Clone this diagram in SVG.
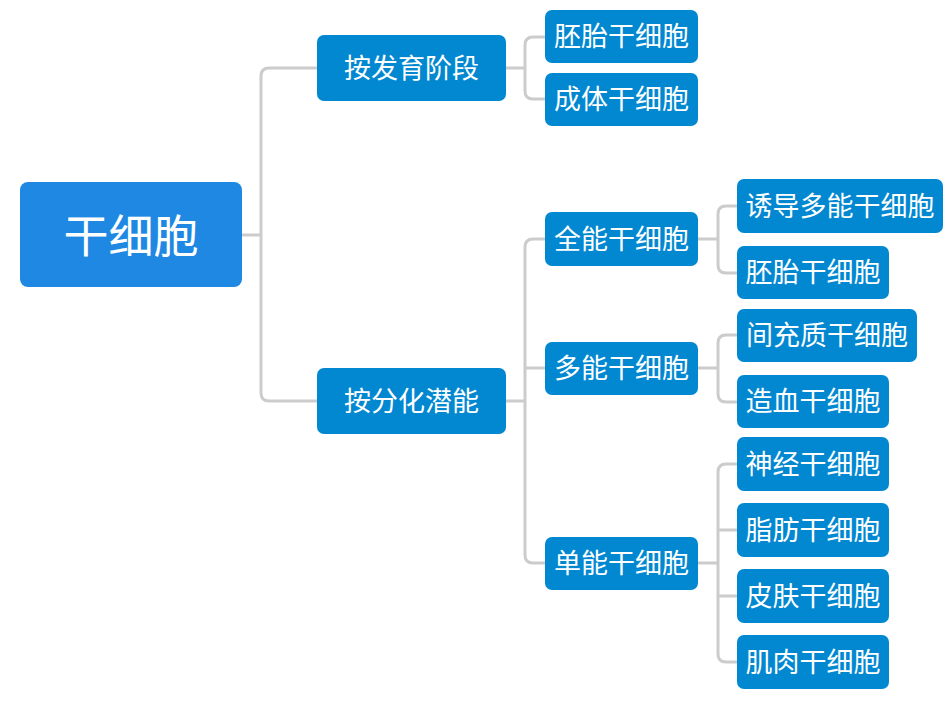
<svg xmlns="http://www.w3.org/2000/svg" width="947" height="701" viewBox="0 0 947 701">
<style>
.n{fill:#0288d1}
.r{fill:#1f88e3}
.t{fill:#fff;font-family:"Noto Sans CJK SC","Noto Sans",sans-serif;font-size:27px;text-anchor:middle;dominant-baseline:central}
.rt{font-size:45px}
.c{fill:none;stroke:#cccccc;stroke-width:3}
</style>
<rect width="947" height="701" fill="#fff"/>
<g id="connectors">
<path class="c" d="M242,235 H261 M261,235 V76 Q261,68 269,68 H317 M261,235 V393 Q261,401 269,401 H317"/>
<path class="c" d="M506,68 H525 M525,68 V45 Q525,37 533,37 H545 M525,68 V91 Q525,99 533,99 H545"/>
<path class="c" d="M506,401 H525 M525,401 V247 Q525,239 533,239 H545 M525,401 V555 Q525,563 533,563 H545 M525,368 H545"/>
<path class="c" d="M698,239 H718 M718,239 V214 Q718,206 726,206 H737 M718,239 V265 Q718,273 726,273 H737"/>
<path class="c" d="M698,368 H718 M718,368 V343 Q718,335 726,335 H737 M718,368 V394 Q718,402 726,402 H737"/>
<path class="c" d="M698,563 H718 M718,563 V472 Q718,464 726,464 H737 M718,563 V654 Q718,662 726,662 H737 M718,530 H737 M718,596 H737"/>
</g>
<g id="root"><rect class="r" x="20" y="182" width="222" height="105" rx="8"/><text class="t rt" x="131" y="233">干细胞</text></g>
<g id="n1"><rect class="n" x="317" y="35" width="189" height="66" rx="7"/><text class="t" x="411.5" y="66">按发育阶段</text></g>
<g id="n2"><rect class="n" x="317" y="368" width="189" height="66" rx="7"/><text class="t" x="411.5" y="399">按分化潜能</text></g>
<g id="n1a"><rect class="n" x="545" y="10" width="153" height="53" rx="7"/><text class="t" x="621.5" y="34.5">胚胎干细胞</text></g>
<g id="n1b"><rect class="n" x="545" y="73" width="153" height="53" rx="7"/><text class="t" x="621.5" y="97.5">成体干细胞</text></g>
<g id="n2a"><rect class="n" x="545" y="212" width="153" height="54" rx="7"/><text class="t" x="621.5" y="237">全能干细胞</text></g>
<g id="n2b"><rect class="n" x="545" y="342" width="153" height="53" rx="7"/><text class="t" x="621.5" y="366.5">多能干细胞</text></g>
<g id="n2c"><rect class="n" x="545" y="537" width="153" height="53" rx="7"/><text class="t" x="621.5" y="561.5">单能干细胞</text></g>
<g id="n2a1"><rect class="n" x="737" y="179" width="206" height="54" rx="7"/><text class="t" x="840" y="204">诱导多能干细胞</text></g>
<g id="n2a2"><rect class="n" x="737" y="246" width="152" height="53" rx="7"/><text class="t" x="813" y="270.5">胚胎干细胞</text></g>
<g id="n2b1"><rect class="n" x="737" y="309" width="180" height="53" rx="7"/><text class="t" x="827" y="333.5">间充质干细胞</text></g>
<g id="n2b2"><rect class="n" x="737" y="375" width="152" height="53" rx="7"/><text class="t" x="813" y="399.5">造血干细胞</text></g>
<g id="n2c1"><rect class="n" x="737" y="437" width="152" height="54" rx="7"/><text class="t" x="813" y="462">神经干细胞</text></g>
<g id="n2c2"><rect class="n" x="737" y="503" width="152" height="54" rx="7"/><text class="t" x="813" y="528">脂肪干细胞</text></g>
<g id="n2c3"><rect class="n" x="737" y="569" width="152" height="54" rx="7"/><text class="t" x="813" y="594">皮肤干细胞</text></g>
<g id="n2c4"><rect class="n" x="737" y="635" width="152" height="54" rx="7"/><text class="t" x="813" y="660">肌肉干细胞</text></g>
</svg>
